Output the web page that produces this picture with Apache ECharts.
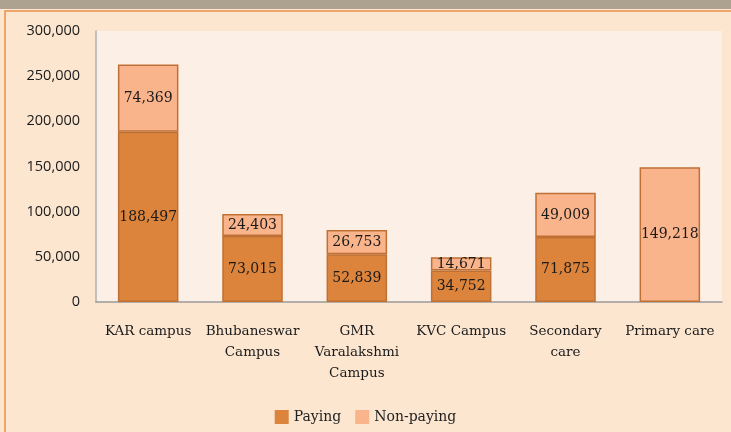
<!DOCTYPE html>
<html>
<head>
<meta charset="utf-8">
<script src="https://cdn.jsdelivr.net/npm/echarts@6/dist/echarts.min.js"></script>
<style>
  html, body { margin: 0; padding: 0; background: #fce6d0; }
  #main { width: 731px; height: 432px; }
</style>
</head>
<body>
<div id="main"></div>
<script>
    // data
    var categories = ['KAR campus', 'Bhubaneswar\nCampus', 'GMR\nVaralakshmi\nCampus', 'KVC Campus', 'Secondary\ncare', 'Primary care'];
    var paying = [188497, 73015, 52839, 34752, 71875, null];
    var nonPaying = [74369, 24403, 26753, 14671, 49009, 149218];
    var yTicks = [0, 50000, 100000, 150000, 200000, 250000, 300000];

    var myChart = echarts.init(document.getElementById('main'));

    var labelStyle = {
        show: true,
        position: 'inside',
        color: '#1a1a1a',
        fontFamily: 'DejaVu Serif',
        fontSize: 14,
        formatter: function (p) {
            return p.value == null ? '' : p.value.toLocaleString('en-US');
        }
    };

    myChart.setOption({
        backgroundColor: '#fce6d0',
        animation: false,
        graphic: [
            // top band and frame
            { type: 'rect', shape: { x: 0, y: 0, width: 731, height: 9 }, style: { fill: '#ada190' } },
            { type: 'rect', shape: { x: 5, y: 11, width: 740, height: 440 },
              style: { fill: 'none', stroke: '#e8904a', lineWidth: 1.5 } }
        ],
        grid: {
            left: 96, right: 9, top: 31, bottom: 130,
            show: true,
            backgroundColor: '#fcefe6',
            borderWidth: 0
        },
        legend: {
            bottom: 3,
            left: 'center',
            icon: 'rect',
            itemWidth: 14,
            itemHeight: 14,
            itemGap: 14,
            itemStyle: { borderWidth: 0 },
            textStyle: { fontFamily: 'DejaVu Serif', fontSize: 14, color: '#222' },
            data: ['Paying', 'Non-paying']
        },
        xAxis: {
            type: 'category',
            data: categories,
            axisLine: { lineStyle: { color: '#9a9a9a', width: 1.5 } },
            axisTick: { show: false },
            axisLabel: {
                interval: 0,
                margin: 19,
                lineHeight: 21,
                color: '#1a1a1a',
                fontFamily: 'DejaVu Serif',
                fontSize: 13.5
            }
        },
        yAxis: {
            type: 'value',
            min: 0,
            max: 300000,
            interval: 50000,
            axisLine: { show: true, lineStyle: { color: '#b0b0b0', width: 1.5 } },
            axisTick: { show: false },
            splitLine: { show: false },
            axisLabel: {
                margin: 16,
                color: '#1a1a1a',
                fontFamily: 'Open Sans',
                fontSize: 14.5,
                formatter: function (v) { return v.toLocaleString('en-US'); }
            }
        },
        series: [
            {
                name: 'Paying',
                type: 'bar',
                stack: 'total',
                barWidth: '58%',
                data: paying,
                itemStyle: { color: '#dc843c', borderColor: '#bf7034', borderWidth: 1.5 },
                label: labelStyle
            },
            {
                name: 'Non-paying',
                type: 'bar',
                stack: 'total',
                barWidth: '58%',
                data: nonPaying,
                itemStyle: { color: '#fab48c', borderColor: '#bf7034', borderWidth: 1.5 },
                label: labelStyle
            }
        ]
    });
</script>
</body>
</html>
